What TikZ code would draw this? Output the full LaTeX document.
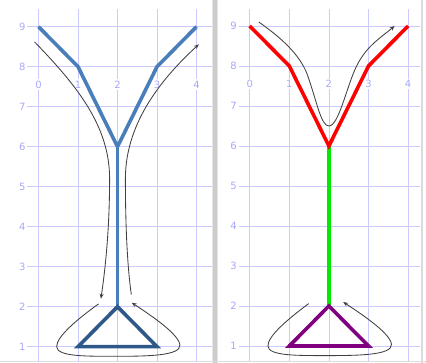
\documentclass[tikz,border=0pt]{standalone}
\usepackage{fontspec}
\setmainfont{DejaVu Sans}
\usetikzlibrary{arrows.meta}
\definecolor{gridc}{RGB}{202,202,255}
\definecolor{labc}{RGB}{168,168,250}
\definecolor{vblue}{RGB}{74,126,187}
\definecolor{tblue}{RGB}{46,88,138}
\definecolor{vred}{RGB}{255,0,0}
\definecolor{vgreen}{RGB}{0,235,0}
\definecolor{vpurple}{RGB}{128,0,128}
\newcommand\panelgrid[1]{%
  \foreach \yy in {1,...,9} {\draw[gridline] (-0.28,\yy) -- (#1,\yy); \node[ylab] at (-0.41,\yy) {\yy};}
  \foreach \xx in {0,...,4} {\draw[gridline] (\xx,0.62) -- (\xx,9.43);}
  \foreach \xx in {0,...,4} {\node[xlab] at (\xx,7.55) {\xx};}
}
\begin{document}
\begin{tikzpicture}[
  gridline/.style={draw=gridc, line width=0.8pt},
  ylab/.style={text=labc, font=\fontsize{10}{10}\selectfont, inner sep=0.5pt},
  xlab/.style={ylab, fill=white, inner sep=1.6pt},
  heavy/.style={line width=3.6pt},
  guide/.style={draw=black!75, line width=0.85pt, -{Stealth[length=5pt,width=4pt]}},
]
\useasboundingbox (0,0) rectangle (426pt,363pt);
% borders
\fill[gray!40] (212.5pt,0) rectangle (216.5pt,363pt);
\fill[gray!20] (211.8pt,0) rectangle (212.5pt,363pt);
\fill[gray!20] (216.5pt,0) rectangle (217.2pt,363pt);
\fill[gray!28] (421pt,0) rectangle (423pt,363pt);
\draw[gray!25, line width=0.8pt] (0,1.3pt) -- (426pt,1.3pt);

% ---------- left panel ----------
\begin{scope}[x=39.5pt, y=40pt, shift={(38.5pt,-23.7pt)}]
  \panelgrid{4.4}
  \coordinate (L0) at (0,9);
  \coordinate (L1) at (1,8);
  \coordinate (LC) at (2,6);
  \coordinate (L3) at (3,8);
  \coordinate (L4) at (4,9);
  \coordinate (LB) at (2,2);
  \coordinate (LT1) at (1,1);
  \coordinate (LT3) at (3,1);
  \draw[heavy, vblue] (L0) -- (L1) -- (LC) -- (L3) -- (L4);
  \draw[heavy, vblue] (LC) -- (LB);
  \draw[heavy, tblue] (LB) -- (LT1) -- (LT3) -- cycle;
  % guide curves
  \coordinate (la) at (-0.1,8.62);
  \coordinate (lm) at (1.8,5.2);
  \coordinate (lb) at (1.58,2.2);
  \draw[guide] (la) .. controls (1.0,7.5) and (1.8,6.5) .. (lm)
                    .. controls (1.8,4.0) and (1.7,3.0) .. (lb);
  \coordinate (ra) at (2.35,2.3);
  \coordinate (rm) at (2.2,5.2);
  \coordinate (rb) at (4.06,8.56);
  \draw[guide] (ra) .. controls (2.25,3.0) and (2.2,4.0) .. (rm)
                    .. controls (2.2,6.5) and (3.0,7.6) .. (rb);
  \coordinate (sa) at (1.52,2.07);
  \coordinate (s1) at (0.46,1.0);
  \coordinate (s2) at (2.0,0.76);
  \coordinate (s3) at (3.58,1.04);
  \coordinate (sb) at (2.36,2.1);
  \draw[guide] (sa) .. controls (1.0,1.7) and (0.45,1.25) .. (s1)
                    .. controls (0.47,0.75) and (1.2,0.76) .. (s2)
                    .. controls (2.8,0.76) and (3.6,0.78) .. (s3)
                    .. controls (3.56,1.3) and (2.9,1.75) .. (sb);
\end{scope}

% ---------- right panel ----------
\begin{scope}[x=39.6pt, y=40pt, shift={(249.7pt,-23pt)}]
  \panelgrid{4.3}
  \coordinate (R0) at (0,9);
  \coordinate (R1) at (1,8);
  \coordinate (RC) at (2,6);
  \coordinate (R3) at (3,8);
  \coordinate (R4) at (4,9);
  \coordinate (RB) at (2,2);
  \coordinate (RT1) at (1,1);
  \coordinate (RT3) at (3,1);
  \draw[heavy, vgreen, line width=3.3pt] (RC) -- (RB);
  \draw[heavy, vred] (R0) -- (R1) -- (RC) -- (R3) -- (R4);
  \draw[heavy, vpurple] (RB) -- (RT1) -- (RT3) -- cycle;
  \coordinate (ta) at (0.23,9.1);
  \coordinate (t1) at (1.45,7.8);
  \coordinate (t2) at (2.0,6.5);
  \coordinate (t3) at (2.7,8.0);
  \coordinate (tb) at (3.66,9.0);
  \draw[guide] (ta) .. controls (0.8,8.7) and (1.25,8.3) .. (t1)
                    .. controls (1.7,7.1) and (1.8,6.5) .. (t2)
                    .. controls (2.25,6.5) and (2.45,7.5) .. (t3)
                    .. controls (2.95,8.5) and (3.3,8.7) .. (tb);
  \coordinate (ua) at (1.49,2.06);
  \coordinate (u1) at (0.46,1.0);
  \coordinate (u2) at (2.0,0.76);
  \coordinate (u3) at (3.58,1.04);
  \coordinate (ub) at (2.36,2.1);
  \draw[guide] (ua) .. controls (1.0,1.7) and (0.45,1.25) .. (u1)
                    .. controls (0.47,0.75) and (1.2,0.76) .. (u2)
                    .. controls (2.8,0.76) and (3.6,0.78) .. (u3)
                    .. controls (3.56,1.3) and (2.9,1.75) .. (ub);
\end{scope}
\end{tikzpicture}
\end{document}
